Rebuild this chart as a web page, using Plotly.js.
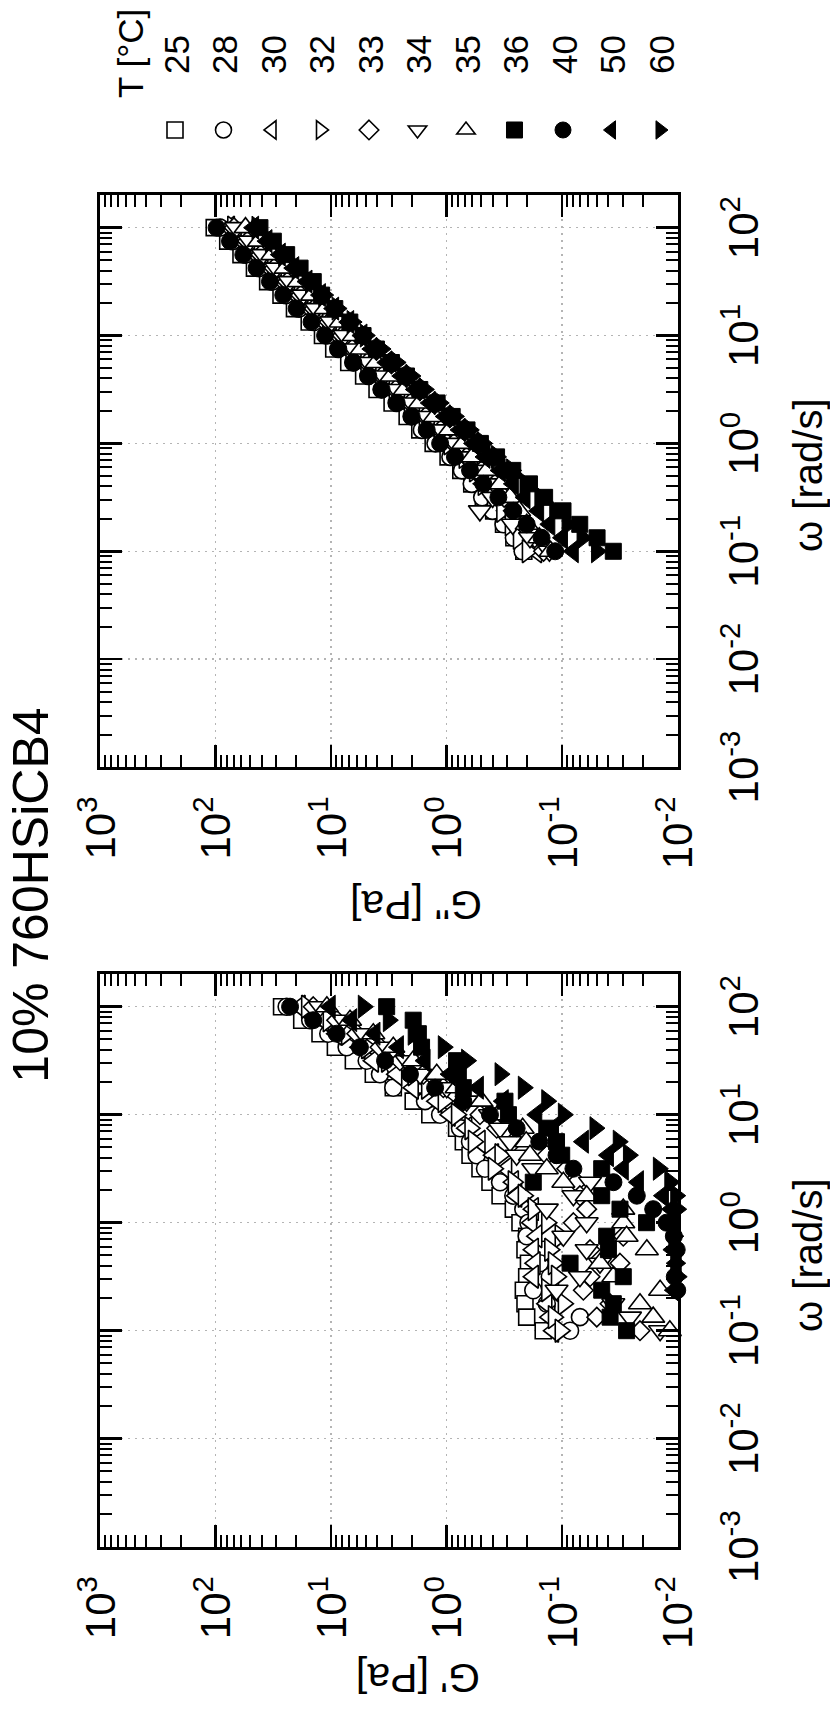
<!DOCTYPE html>
<html><head><meta charset="utf-8">
<script src="https://cdn.plot.ly/plotly-3.0.1.min.js"></script>
<style>
html,body{margin:0;padding:0;width:830px;height:1711px;overflow:hidden;background:#fff;}
#rot{position:absolute;left:0;top:0;width:1711px;height:830px;transform-origin:0 0;transform:translate(0px,1711px) rotate(-90deg);}
#chart{width:1711px;height:830px;}
</style></head><body>
<div id="rot"><div id="chart"></div></div>
<script>
// angular frequency [rad/s]
const omega = [100, 74.99, 56.23, 42.17, 31.62, 23.71, 17.78, 13.34, 10, 7.499, 5.623, 4.217, 3.162, 2.371, 1.778, 1.334, 1, 0.7499, 0.5623, 0.4217, 0.3162, 0.2371, 0.1778, 0.1334, 0.1];
// temperatures [°C]
const temps = ['25','28','30','32','33','34','35','36','40','50','60'];

// storage modulus G' [Pa]
const gp25 = [26.9, 18.0, 12.5, 9.2, 6.43, 4.32, 2.90, 1.95, 1.40, 0.821, 0.718, 0.628, 0.515, 0.422, 0.345, 0.265, 0.232, 0.203, 0.210, 0.196, 0.203, 0.217, 0.210, 0.203, 0.146];
const gp28 = [24.3, 15.2, 10.6, 7.35, 4.93, 3.78, 2.90, 1.54, 1.14, 0.767, 0.628, 0.550, 0.466, 0.345, 0.265, 0.217, 0.196, 0.203, 0.146, 0.156, 0.128, 0.178, 0.136, 0.0702, 0.0855];
const gp30 = [18.6, 11.7, 8.97, 5.64, 4.32, 2.71, 1.95, 1.22, 0.936, 0.672, 0.515, 0.394, 0.303, 0.265, 0.248, 0.178, 0.184, 0.166, 0.178, 0.172, 0.178, 0.119, 0.136, 0.128, 0.119];
const gp32 = [16.3, 10.6, 7.35, 4.93, 3.31, 1.95, 1.49, 1.07, 0.821, 0.628, 0.587, 0.345, 0.394, 0.265, 0.217, 0.178, 0.136, 0.104, 0.128, 0.119, 0.112, 0.136, 0.0977, 0.119, 0.104];
const gp33 = [14.3, 8.97, 6.01, 3.78, 2.54, 1.59, 1.07, 0.718, 0.515, 0.369, 0.265, 0.136, 0.0914, 0.0750, 0.0702, 0.0614, 0.080, 0.0296, 0.0574, 0.0316, 0.0574, 0.0656, 0.0385, 0.0502, 0.0212];
const gp34 = [12.5, 7.85, 5.27, 3.31, 2.22, 1.70, 1.00, 0.672, 0.422, 0.345, 0.283, 0.248, 0.178, 0.0574, 0.080, 0.136, 0.0614, 0.0977, 0.0614, 0.0471, 0.0702, 0.112, 0.0361, 0.0259, 0.0142];
const gp35 = [10.9, 6.87, 4.32, 2.90, 1.95, 1.22, 0.821, 0.50, 0.36, 0.22, 0.205, 0.190, 0.136, 0.0977, 0.0614, 0.0296, 0.0296, 0.0277, 0.0185, 0.0471, 0.0361, 0.0142, 0.0212, 0.0163, 0.0117];
const gp36 = [3.31, 1.95, 1.76, 1.65, 0.821, 0.793, 0.718, 0.313, 0.292, 0.136, 0.112, 0.101, 0.0455, 0.178, 0.0455, 0.0316, 0.0186, 0.0412, 0.0398, 0.0855, 0.0296, 0.0455, 0.0361, 0.0385, 0.0277];
const gp40 = [22.7, 14.3, 8.97, 5.64, 3.42, 2.08, 1.26, 0.718, 0.422, 0.248, 0.158, 0.112, 0.080, 0.036, 0.0226, 0.0163, 0.0125, 0.0108, 0.0102, null, 0.0106, 0.0101, null, null, null];
const gp50 = [10.2, 6.65, 4.18, 2.62, 1.54, 0.936, 0.532, 0.324, 0.166, 0.119, 0.0656, 0.0398, 0.0296, 0.0219, 0.0133, 0.0113, 0.0105, null, 0.0110, 0.0103, null, 0.0107, null, null, null];
const gp60 = [5.27, 3.20, 1.95, 1.07, 0.672, 0.345, 0.217, 0.136, 0.0977, 0.052, 0.0327, 0.0267, 0.0147, 0.0117, 0.0104, 0.0102, null, 0.0108, null, 0.0104, 0.0101, null, null, null, null];

// loss modulus G'' [Pa]
const gpp25 = [103, 78.7, 60.4, 46.2, 35.5, 27.2, 20.8, 15.5, 11.9, 9.51, 7.05, 5.24, 4.01, 2.97, 2.20, 1.71, 1.31, 0.973, 0.755, 0.607, 0.482, 0.392, 0.322, 0.262, 0.215];
const gpp28 = [91.6, 71.8, 55.1, 42.2, 32.4, 24.8, 19.0, 14.1, 10.8, 8.67, 6.43, 4.77, 3.66, 2.71, 2.01, 1.64, 1.25, 0.929, 0.738, 0.607, 0.493, 0.401, 0.322, 0.262, 0.220];
const gpp30 = [76.2, 58.3, 44.8, 34.3, 26.3, 20.1, 15.5, 11.5, 8.79, 7.21, 5.35, 3.97, 3.04, 2.25, 1.67, 1.24, 0.951, 0.755, 0.600, 0.482, 0.383, 0.304, 0.256, 0.203, 0.167];
const gpp32 = [71.1, 54.5, 41.8, 32.0, 24.5, 18.8, 14.4, 10.7, 8.20, 6.73, 4.99, 3.71, 2.84, 2.10, 1.56, 1.16, 0.951, 0.705, 0.573, 0.482, 0.401, 0.333, 0.281, 0.239, 0.200];
const gpp33 = [69.5, 53.2, 40.8, 31.3, 24.0, 18.4, 14.1, 10.4, 8.02, 6.58, 4.88, 3.62, 2.77, 2.06, 1.52, 1.13, 0.867, 0.673, 0.499, 0.383, 0.318, 0.265, 0.218, 0.173, 0.145];
const gpp34 = [66.4, 50.8, 39.0, 29.9, 22.9, 17.5, 13.5, 9.98, 7.66, 6.43, 4.76, 3.54, 2.71, 2.01, 1.49, 1.11, 0.847, 0.673, 0.550, 0.460, 0.400, 0.516, 0.268, 0.190, 0.129];
const gpp35 = [55.2, 42.3, 32.4, 24.8, 19.1, 14.6, 11.2, 8.30, 6.37, 5.47, 4.06, 3.01, 2.31, 1.71, 1.27, 0.942, 0.721, 0.600, 0.445, 0.341, 0.284, 0.236, 0.203, 0.158, 0.126];
const gpp36 = [41.4, 31.7, 24.3, 18.6, 14.3, 12.1, 9.31, 6.90, 5.30, 4.06, 3.01, 2.23, 1.71, 1.21, 0.897, 0.667, 0.511, 0.370, 0.268, 0.192, 0.142, 0.0984, 0.0705, 0.0499, 0.0361];
const gpp40 = [98.2, 75.2, 57.7, 44.2, 33.9, 26.0, 19.9, 14.8, 11.3, 8.67, 6.43, 4.77, 3.66, 2.71, 2.01, 1.49, 1.14, 0.848, 0.628, 0.482, 0.357, 0.265, 0.203, 0.151, 0.115];
const gpp50 = [47.0, 36.0, 27.6, 21.1, 16.2, 12.4, 9.53, 7.06, 5.42, 4.45, 3.30, 2.45, 1.87, 1.39, 1.03, 0.766, 0.586, 0.466, 0.345, 0.265, 0.210, 0.160, 0.128, 0.0995, 0.0802];
const gpp60 = [43.9, 33.6, 25.8, 19.7, 15.1, 11.6, 8.89, 6.59, 5.06, 3.70, 2.74, 2.04, 1.56, 1.16, 0.857, 0.637, 0.488, 0.370, 0.274, 0.210, 0.156, 0.116, 0.0908, 0.0673, 0.0504];

// tick labels
const xTickVals = [0.001, 0.01, 0.1, 1, 10, 100];
const xTickText = ['10<sup>-3</sup>', '10<sup>-2</sup>', '10<sup>-1</sup>', '10<sup>0</sup>', '10<sup>1</sup>', '10<sup>2</sup>'];
const yTickVals = [0.01, 0.1, 1, 10, 100, 1000];
const yTickText = ['10<sup>-2</sup>', '10<sup>-1</sup>', '10<sup>0</sup>', '10<sup>1</sup>', '10<sup>2</sup>', '10<sup>3</sup>'];
const xMinor = [0.002,0.003,0.004,0.005,0.006,0.007,0.008,0.009,0.02,0.03,0.04,0.05,0.06,0.07,0.08,0.09,0.2,0.3,0.4,0.5,0.6,0.7,0.8,0.9,2,3,4,5,6,7,8,9,20,30,40,50,60,70,80,90];
const yMinor = [0.02,0.03,0.04,0.05,0.06,0.07,0.08,0.09,0.2,0.3,0.4,0.5,0.6,0.7,0.8,0.9,2,3,4,5,6,7,8,9,20,30,40,50,60,70,80,90,200,300,400,500,600,700,800,900];

const gpSeries = [gp25, gp28, gp30, gp32, gp33, gp34, gp35, gp36, gp40, gp50, gp60];
const gppSeries = [gpp25, gpp28, gpp30, gpp32, gpp33, gpp34, gpp35, gpp36, gpp40, gpp50, gpp60];

// marker styles
const styleMap = {
  '25': {symbol: 'square', open: true, size: 16},
  '28': {symbol: 'circle', open: true, size: 17},
  '30': {symbol: 'triangle-up', open: true, size: 20},
  '32': {symbol: 'triangle-down', open: true, size: 20},
  '33': {symbol: 'diamond', open: true, size: 15},
  '34': {symbol: 'triangle-left', open: true, size: 20},
  '35': {symbol: 'triangle-right', open: true, size: 20},
  '36': {symbol: 'square', open: false, size: 16},
  '40': {symbol: 'circle', open: false, size: 17},
  '50': {symbol: 'triangle-up', open: false, size: 20},
  '60': {symbol: 'triangle-down', open: false, size: 20}
};

function mk(st) {
  return {
    symbol: st.symbol, size: st.size,
    color: st.open ? '#ffffff' : '#000000',
    line: {color: '#000000', width: st.open ? 1.6 : 1}
  };
}

const traces = [];
temps.forEach((t, i) => {
  traces.push({type: 'scatter', mode: 'markers', x: omega, y: gpSeries[i], xaxis: 'x', yaxis: 'y',
    name: t, marker: mk(styleMap[t]), showlegend: true, cliponaxis: false, hoverinfo: 'skip'});
});
temps.forEach((t, i) => {
  traces.push({type: 'scatter', mode: 'markers', x: omega, y: gppSeries[i], xaxis: 'x2', yaxis: 'y2',
    name: t, marker: mk(styleMap[t]), showlegend: false, cliponaxis: false, hoverinfo: 'skip'});
});

const FONT = 'Liberation Sans, Arial, Helvetica, sans-serif';

function xAx(dom, anchor) {
  return {
    type: 'log', range: [-3, 2.3], domain: dom, anchor: anchor,
    tickmode: 'array', tickvals: xTickVals, ticktext: xTickText,
    ticks: 'inside', ticklen: 22, tickwidth: 2.5, tickcolor: '#000',
    showline: true, linewidth: 3, linecolor: '#000', mirror: 'ticks',
    showgrid: true, gridcolor: '#b4b4b4', gridwidth: 1.5, griddash: '2px,5px',
    zeroline: false, ticklabelstandoff: 27,
    tickfont: {family: FONT, size: 42, color: '#000'},
    minor: {tickmode: 'array', tickvals: xMinor, ticks: 'inside', ticklen: 12, tickwidth: 2, tickcolor: '#000', showgrid: false}
  };
}
function yAx(anchor) {
  return {
    type: 'log', range: [-2, 3], domain: [0.18349, 0.87928], anchor: anchor,
    tickmode: 'array', tickvals: yTickVals, ticktext: yTickText,
    ticks: 'inside', ticklen: 22, tickwidth: 2.5, tickcolor: '#000',
    showline: true, linewidth: 3, linecolor: '#000', mirror: 'ticks',
    showgrid: true, gridcolor: '#b4b4b4', gridwidth: 1.5, griddash: '2px,5px',
    zeroline: false, ticklabelstandoff: 18,
    tickfont: {family: FONT, size: 42, color: '#000'},
    minor: {tickmode: 'array', tickvals: yMinor, ticks: 'inside', ticklen: 12, tickwidth: 2, tickcolor: '#000', showgrid: false}
  };
}

const layout = {
  width: 1711, height: 830, autosize: false,
  margin: {l: 0, r: 0, t: 0, b: 0},
  paper_bgcolor: '#fff', plot_bgcolor: '#fff',
  font: {family: FONT, color: '#000'},
  title: {text: '10% 760HSiCB4', x: 0.4769, xanchor: 'center', xref: 'paper', y: 0.9627, yanchor: 'middle', font: {family: FONT, size: 50, color: '#000'}},
  xaxis: xAx([0.09603, 0.43057], 'y'),
  yaxis: yAx('x'),
  xaxis2: xAx([0.55172, 0.88585], 'y2'),
  yaxis2: yAx('x2'),
  showlegend: true,
  legend: {x: 0.8913, xanchor: 'left', y: 0.8244, yanchor: 'top', itemwidth: 102,
    font: {family: FONT, size: 35, color: '#000'}, bgcolor: 'rgba(0,0,0,0)', borderwidth: 0,
    traceorder: 'normal', itemsizing: 'trace'},
  annotations: [
    {text: 'T [°C]', xref: 'paper', yref: 'paper', x: 0.9690, y: 0.8422, xanchor: 'center', yanchor: 'middle', showarrow: false, font: {family: FONT, size: 35, color: '#000'}},
    {text: 'ω [rad/s]', xref: 'paper', yref: 'paper', x: 0.2665, y: 0.027, xanchor: 'center', yanchor: 'middle', showarrow: false, font: {family: FONT, size: 40, color: '#000'}},
    {text: 'ω [rad/s]', xref: 'paper', yref: 'paper', x: 0.7224, y: 0.027, xanchor: 'center', yanchor: 'middle', showarrow: false, font: {family: FONT, size: 40, color: '#000'}},
    {text: "G' [Pa]", xref: 'paper', yref: 'paper', x: 0.01929, y: 0.4964, xanchor: 'center', yanchor: 'middle', textangle: -90, showarrow: false, font: {family: FONT, size: 41, color: '#000'}},
    {text: "G'' [Pa]", xref: 'paper', yref: 'paper', x: 0.4711, y: 0.4988, xanchor: 'center', yanchor: 'middle', textangle: -90, showarrow: false, font: {family: FONT, size: 41, color: '#000'}}
  ]
};

Plotly.newPlot('chart', traces, layout, {displayModeBar: false, staticPlot: true});
</script></body></html>
